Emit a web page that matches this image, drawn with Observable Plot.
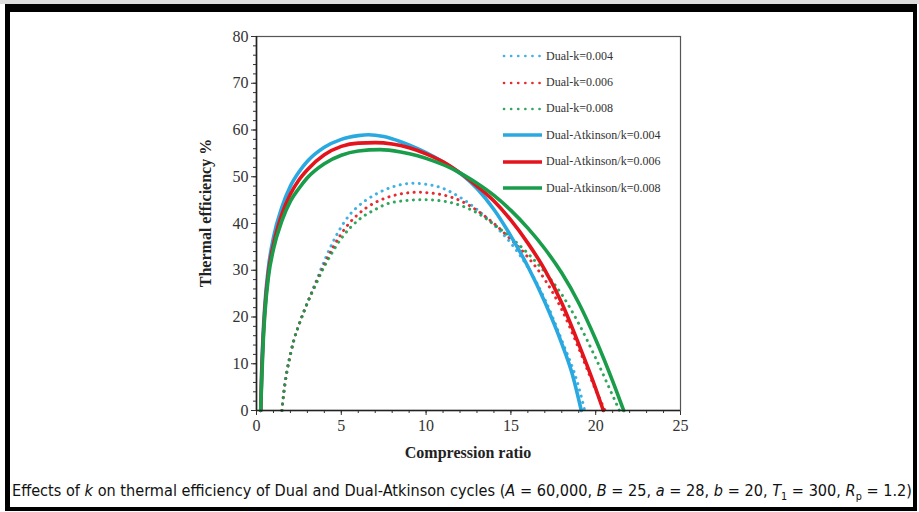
<!DOCTYPE html>
<html>
<head>
<meta charset="utf-8">
<script src="https://cdn.jsdelivr.net/npm/d3@7"></script>
<script src="https://cdn.jsdelivr.net/npm/@observablehq/plot@0.6"></script>
<style>
  html, body { margin:0; padding:0; background:#fff; }
  body { width:919px; height:512px; position:relative; overflow:hidden; font-family:"Liberation Serif","Times New Roman",serif; }
  #topstrip { position:absolute; left:0; top:0; width:919px; height:4px; background:#dcdcdc; }
  #frame { position:absolute; left:5px; top:4px; width:912px; height:507px; box-sizing:border-box;
           border-style:solid; border-color:#000; border-width:8px 4px 4px 5px; pointer-events:none; }
  #chart { position:absolute; left:0; top:0; }
  #legend { position:absolute; left:500px; top:43px; }
  .lrow { height:26.4px; display:flex; align-items:center; }
  .lrow svg { margin-left:2px; margin-right:4px; }
  .lrow span { font-size:12px; color:#333; white-space:nowrap; }
  #ylabel { position:absolute; left:206px; top:213px; transform:translate(-50%,-50%) rotate(-90deg);
            font-weight:bold; font-size:16px; color:#222; white-space:nowrap; }
  #xlabel { position:absolute; left:468px; top:453px; transform:translate(-50%,-50%);
            font-weight:bold; font-size:16px; color:#222; white-space:nowrap; }
  #caption { position:absolute; left:12px; top:482px; transform-origin:0 50%;
             font-family:"Liberation Sans Narrow","DejaVu Sans Condensed","Liberation Sans",sans-serif;
             font-size:15px; color:#111; white-space:nowrap; line-height:18px; }
  #caption sub { font-size:10px; line-height:0; }
</style>
</head>
<body>
<div id="topstrip"></div>
<div id="chart"></div>
<div id="legend"></div>
<div id="ylabel">Thermal efficiency %</div>
<div id="xlabel">Compression ratio</div>
<div id="caption">Effects of <i>k</i> on thermal efficiency of Dual and Dual-Atkinson cycles (<i>A</i> = 60,000, <i>B</i> = 25, <i>a</i> = 28, <i>b</i> = 20, <i>T</i><sub>1</sub> = 300, <i>R</i><sub>p</sub> = 1.2)</div>
<div id="frame"></div>
<script>
// ---- Data ----
const seriesNames = ["Dual-k=0.004","Dual-k=0.006","Dual-k=0.008",
                     "Dual-Atkinson/k=0.004","Dual-Atkinson/k=0.006","Dual-Atkinson/k=0.008"];

// Dual cycle (dotted)
const dualX1 = [1.5,1.6,1.8,2,2.2,2.5,3,3.5,4,4.5,5,5.5,6,7,8,9.2,10,11,12,13,14,15,16,17,18,19,19.35];
const dualY1 = [0,3.5,8.5,12,15,18.3,23,27.5,32,36,39.3,41.9,43.7,46.2,47.8,48.6,48.4,47.5,45.6,43,39.7,35.8,30.6,23.8,15,5,0];
const dualX2 = [1.5,1.6,1.8,2,2.2,2.5,3,3.5,4,4.5,5,5.5,6,7,7.5,8,9.6,10,11,12,13,14,15,16,17,18,19,20,20.55];
const dualY2 = [0,3.5,8.5,12,15,18.3,23,27.2,31.2,34.8,37.8,40.2,42,44.5,45.3,45.9,46.7,46.6,46.1,44.9,42.8,40,36.6,32.8,28,21.6,13.3,4.4,0];
const dualX3 = [1.5,1.6,1.8,2,2.2,2.5,3,3.5,4,4.5,5,5.5,6,7,8,9.8,11,12,13,14,15,16,17,18,19,20,21,21.4];
const dualY3 = [0,3.5,8.5,12,15,18.3,23,27,30.8,34,36.8,39,40.7,43,44.5,45.1,44.8,43.9,42.3,39.8,37,33.6,29.6,24.8,18.6,11.2,3.2,0];

// Dual-Atkinson cycle (solid)
const daX1 = [0.25,0.3,0.4,0.5,0.7,1,1.5,2,2.5,3,4,5,6,6.6,7.5,8.5,9.5,10.5,11.5,12.2,13,14,15,16,17,18,18.6,19.15];
const daY1 = [0,8,17,23,30.5,37,43.5,48,51,53.3,56.3,58,58.8,59,58.6,57.5,56,54.2,52,50.2,47.5,43,37.3,30.8,23.2,14.3,8,0];
const daX2 = [0.25,0.3,0.4,0.5,0.7,1,1.5,2,2.5,3,4,5,6,7,8,9,10,11,12.2,13,14,15,16,17,18,19,20,20.45];
const daY2 = [0,7,16,22,29.5,35.5,42,46.3,49.3,51.5,54.7,56.5,57.2,57.3,57,56.2,54.9,53.2,50.3,48,44.8,40.7,35.8,30.1,23,14.2,4.7,0];
const daX3 = [0.25,0.3,0.4,0.5,0.7,1,1.5,2,2.5,3,4,5,6,7.3,8.5,9.5,10.5,11.5,12.2,13,14,15,16,17,18,19,20,21,21.65];
const daY3 = [0,6,15,21,28.5,34.5,40.6,44.8,47.5,49.8,52.8,54.6,55.5,55.8,55.3,54.5,53.3,51.8,50.4,48.6,46,42.8,39,34.6,29.4,23,15.2,6.3,0];

const xTicksMajor = [0,5,10,15,20,25];
const yTicksMajor = [0,10,20,30,40,50,60,70,80];

// ---- Build tables ----
const seriesColors = ["#2aa9e0","#e4141c","#1a9d4a","#2aa9e0","#e4141c","#1a9d4a"];
function rows(name, xs, ys){ return xs.map((x,i)=>({series:name, x, y:ys[i]})); }
const dualData = [
  ...rows(seriesNames[0], dualX1, dualY1),
  ...rows(seriesNames[1], dualX2, dualY2),
  ...rows(seriesNames[2], dualX3, dualY3)
];
const daData = [
  ...rows(seriesNames[3], daX1, daY1),
  ...rows(seriesNames[4], daX2, daY2),
  ...rows(seriesNames[5], daX3, daY3)
];

const chart = Plot.plot({
  width: 919, height: 470,
  marginLeft: 256, marginRight: 239, marginTop: 36, marginBottom: 60,
  style: { fontFamily: "Liberation Serif, Times New Roman, serif", fontSize: "16px", color: "#333", background: "transparent" },
  x: { domain: [0,25] },
  y: { domain: [0,80] },
  color: { domain: seriesNames, range: seriesColors },
  marks: [
    Plot.axisX({ ticks: d3.range(0,26,1), tickSize: 3, text: null, label: null }),
    Plot.axisX({ ticks: xTicksMajor, tickSize: 5, tickPadding: 4, label: null, fontSize: 16 }),
    Plot.axisY({ ticks: d3.range(0,81,2), tickSize: 3, text: null, label: null }),
    Plot.axisY({ ticks: yTicksMajor, tickSize: 5, tickPadding: 3, label: null, fontSize: 16 }),
    Plot.line(dualData, { x: "x", y: "y", z: "series", stroke: "series", strokeWidth: 3,
      strokeOpacity: 0.9, strokeDasharray: "0.1,6.3", strokeLinecap: "round", curve: "monotone-x" }),
    Plot.line(daData, { x: "x", y: "y", z: "series", stroke: "series", strokeWidth: 3.6,
      curve: "monotone-x" }),
    Plot.frame({ stroke: "#555", strokeWidth: 1.2 }),
    Plot.ruleX([0], { stroke: "#222", strokeWidth: 1.6 }),
    Plot.ruleY([0], { stroke: "#222", strokeWidth: 1.6 })
  ]
});
document.getElementById("chart").appendChild(chart);

// ---- Legend ----
const legend = document.getElementById("legend");
seriesNames.forEach((name, i) => {
  const row = document.createElement("div");
  row.className = "lrow";
  const dotted = i < 3;
  row.innerHTML =
    `<svg width="40" height="8"><line x1="${dotted?2:1}" y1="4" x2="${dotted?38:40}" y2="4" stroke="${seriesColors[i]}"
      stroke-width="${dotted?2.6:3.6}" ${dotted?'stroke-dasharray="0.1,7" stroke-linecap="round" stroke-opacity="0.9"':''}/></svg><span>${name}</span>`;
  legend.appendChild(row);
});

// ---- Fit caption width ----
const cap = document.getElementById("caption");
const w = cap.getBoundingClientRect().width;
cap.style.transform = `scaleX(${900 / w})`;
</script>
</body>
</html>
